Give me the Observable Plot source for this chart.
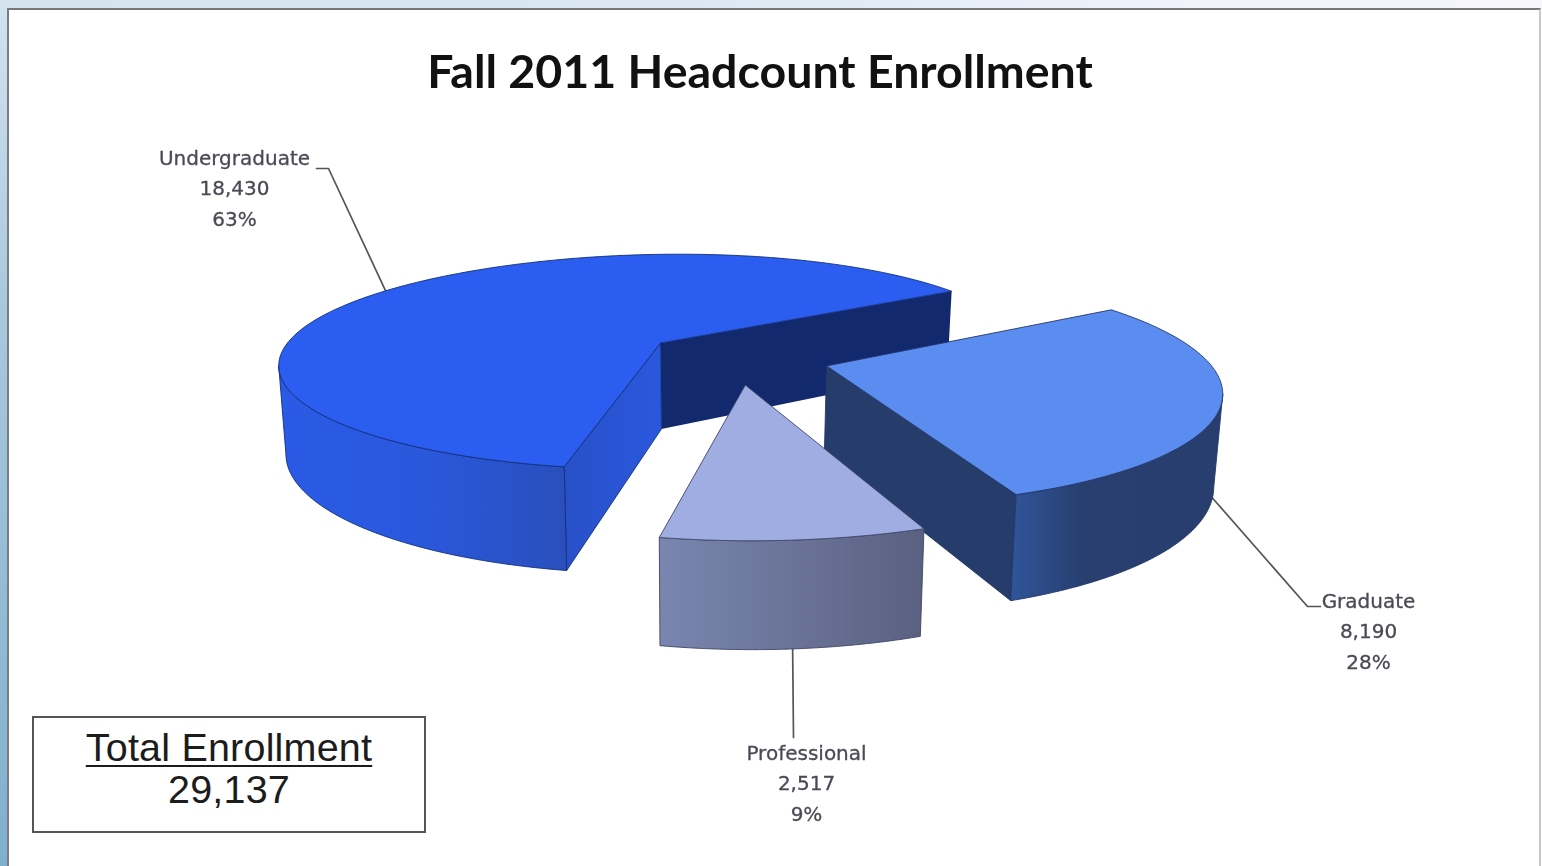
<!DOCTYPE html>
<html>
<head>
<meta charset="utf-8">
<script src="https://cdn.jsdelivr.net/npm/d3@7"></script>
<script src="https://cdn.jsdelivr.net/npm/@observablehq/plot@0.6"></script>
<style>
html,body{margin:0;padding:0;width:1542px;height:866px;overflow:hidden;background:#fff}
#top{position:absolute;left:0;top:0;width:1542px;height:9px;background:linear-gradient(to right,#d3e3f0,#dbe8f3 45%,#f2f4fb 80%,#f6f6fb)}
#left{position:absolute;left:0;top:0;width:8px;height:866px;background:linear-gradient(to bottom,#d3e3f0,#a9c8de 35%,#7fb0cf 100%)}
#panel{position:absolute;left:7px;top:8px;width:1534px;height:858px;background:#fff;box-sizing:border-box;border-top:2px solid #777;border-left:2px solid #7c7c7c;border-right:2px solid #c8c8c8}
#title{position:absolute;left:0;top:40px;width:1520px;text-align:center;margin:0;font:700 46.5px/60px Lato,sans-serif;color:#111;filter:blur(.4px)}
#total{position:absolute;left:32px;top:716px;width:394px;height:117px;box-sizing:border-box;border:2px solid #555;background:#fff;text-align:center;font:39.5px/42px "Liberation Sans",Arial,sans-serif;color:#1c1c1c;padding-top:8px;letter-spacing:.2px}
#total u{text-underline-offset:4px;text-decoration-thickness:2px}
#chart{position:absolute;left:0;top:0}
#chart svg{background:transparent;filter:blur(.45px)}
</style>
</head>
<body>
<div id="top"></div><div id="left"></div><div id="panel"></div>
<h1 id="title">Fall 2011 Headcount Enrollment</h1>
<div id="total"><u>Total Enrollment</u><br><span id="totalValue"></span></div>
<div id="chart"></div>
<script>
// --- data
const categories = ["Undergraduate", "Graduate", "Professional"];
const headcounts = [18430, 8190, 2517];
const shares = [63, 28, 9];
const totalEnrollment = 29137;

// --- slice styling
const topColors = ["#2b5df0", "#5b8df0", "#9fade2"];
const edgeColors = ["#12307e", "#22386a", "#3e4468"];
const wallStops = [["#2a5ae6", "#2a58dc", "#2a4fbc"], ["#30559a", "#283f70", "#273e6e", "#273e6e"], ["#7a86b0", "#6a7498", "#5a6080"]];
const cutStops = [["#2850c8", "#2a58de"], ["#263d6c", "#263d6c"], ["#5a6080", "#5a6080"]];
const backColor = "#12296e";
const labelAnchors = [[234, 185], [1368, 628], [806, 780]];
const leaderBends = [[[328, 168], [316, 168]], [[1307, 606], [1320, 606]], [[793, 737]]];
// per-slice fit to the picture's perspective: pixel shift, radius factor, x warp, shear, wall height
const fit = [
  {dx: 6, dy: 0, r: 1, k: 8.7, q: -7.3, s: 0, h: 1.03},
  {dx: -6, dy: -2.5, r: 1, k: 0, q: 0, s: 5.5, h: 1},
  {dx: 0, dy: -5, r: 1.03, k: 0, q: 0, s: 0, h: 0.97}
];

// --- scene geometry (tilted, exploded 3D pie)
const cx = 735, cy = 358.5, explode = 0.27, depth = 86;
const startAngle = 103.3;
const rad = Math.PI / 180;
function project(u, v, lift = 0) {
  const w = 1 - 0.18 * v;
  const x = cx + (372 * u + 20 * v) / w;
  return {x: x - 0.017 * (x - 700) * lift, y: cy + (-6.7 * u + 110 * v + lift * depth) / w};
}
const total = d3.sum(headcounts);
let running = startAngle;
const slices = categories.map((name, i) => {
  const a0 = running, a1 = running + 360 * headcounts[i] / total;
  running = a1;
  const mid = (a0 + a1) / 2;
  return {name, i, a0, a1, mid, ou: explode * Math.cos(mid * rad), ov: explode * Math.sin(mid * rad), fit: fit[i]};
});
const shift = (s, p, cu = 0, sv = 0) => ({x: p.x + s.fit.dx + s.fit.k * cu + s.fit.q * cu * cu + s.fit.s * sv, y: p.y + s.fit.dy});
const rim = (s, a, lift = 0) => {
  const c = s.fit.r * Math.cos(a * rad), d = s.fit.r * Math.sin(a * rad);
  return shift(s, project(s.ou + c, s.ov + d, lift * s.fit.h), c, d);
};
const hub = (s, lift = 0) => shift(s, project(s.ou, s.ov, lift * s.fit.h));
const arc = (s, a, b, n, lift = 0) => d3.range(n + 1).map(k => rim(s, a + (b - a) * k / n, lift));

const polys = [];
let pid = 0;
function poly(points, fill, stroke = "none", sw = 0.9) {
  const id = pid++;
  [...points, points[0]].forEach(p => polys.push({id, x: p.x, y: p.y, fill, stroke, sw}));
}
slices.forEach(s => {
  const i = s.i, edge = edgeColors[i];
  const topArc = arc(s, s.a0, s.a1, 160);
  if (i === 0) {
    // rear cut face, hub -> end of the slice
    poly([hub(s), rim(s, s.a1), rim(s, s.a1, 1), hub(s, 1)], backColor, "none");
    // front cut face, hub -> start of the slice
    poly([hub(s), rim(s, s.a0), rim(s, s.a0, 1), hub(s, 1)], `url(#cut${i})`, edge);
  }
  if (i === 1) {
    // cut face, hub -> end of the slice
    poly([hub(s), rim(s, s.a1), rim(s, s.a1, 1), hub(s, 1)], `url(#cut${i})`, edge);
  }
  // outer wall: only the part of the rim facing the viewer, up to the silhouette
  let visA = s.a0, visB = s.a1;
  if (i === 0) visB = d3.least(d3.range(s.a0, 270, 0.5), a => rim(s, a).x);
  if (i === 1) visA = d3.least(d3.range(s.a0, s.a1, 0.5), a => -rim(s, a).x);
  poly([...arc(s, visA, visB, 80), ...arc(s, visB, visA, 80, 1)], `url(#wall${i})`, edge);
  // top face
  poly([hub(s), ...topArc], topColors[i], edge);
});

// leaders are anchored on the rim at each slice's middle angle
const leaders = slices.flatMap((s, i) => {
  const start = i === 0 ? rim(s, s.mid) : rim(s, s.mid, 1);
  return [start, ...leaderBends[i].map(([x, y]) => ({x, y}))].map(p => ({...p, name: s.name}));
});
const labels = slices.map((s, i) => ({
  text: `${s.name}\n${d3.format(",")(headcounts[i])}\n${shares[i]}%`,
  x: labelAnchors[i][0], y: labelAnchors[i][1]
}));

document.getElementById("totalValue").textContent = d3.format(",")(totalEnrollment);

function gradientDefs() {
  const defs = d3.create("svg:defs");
  const add = (id, stops) => {
    const g = defs.append("linearGradient").attr("id", id).attr("x1", 0).attr("x2", 1).attr("y1", 0).attr("y2", 0);
    stops.forEach((c, k) => g.append("stop").attr("offset", k / (stops.length - 1)).attr("stop-color", c));
  };
  wallStops.forEach((st, i) => add(`wall${i}`, st));
  cutStops.forEach((st, i) => add(`cut${i}`, st));
  return defs.node();
}

const chart = Plot.plot({
  width: 1542, height: 866, margin: 0,
  x: {domain: [0, 1542], range: [0, 1542], axis: null},
  y: {domain: [0, 866], range: [0, 866], axis: null},
  color: {type: "identity"},
  marks: [
    gradientDefs,
    Plot.line(leaders, {x: "x", y: "y", z: "name", stroke: "#555", strokeWidth: 1.7}),
    Plot.line(polys, {x: "x", y: "y", z: "id", fill: "fill", stroke: "stroke", strokeWidth: "sw", curve: "linear", strokeLinejoin: "round"}),
    Plot.text(labels, {x: "x", y: "y", text: "text", lineHeight: 1.52, fontSize: 20, fontFamily: "DejaVu Sans", fill: "#4a4a55", stroke: "#4a4a55", strokeWidth: 0.3, textAnchor: "middle"})
  ]
});
document.getElementById("chart").appendChild(chart);
</script>
</body>
</html>
